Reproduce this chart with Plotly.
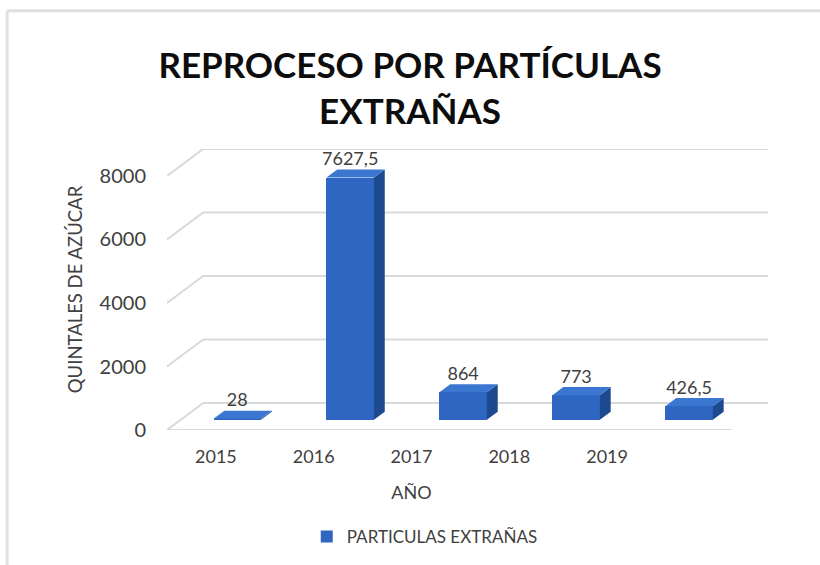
import plotly.graph_objects as go

# ---------------- data ----------------
years = ["2015", "2016", "2017", "2018", "2019"]
values = [28, 7627.5, 864, 773, 426.5]
y_ticks = [0, 2000, 4000, 6000, 8000]
series_name = "PARTICULAS EXTRAÑAS"
title_text = "REPROCESO POR PARTÍCULAS<br>EXTRAÑAS"
x_title = "AÑO"
y_title = "QUINTALES DE AZÚCAR"

# ---------------- 3D-look style constants ----------------
DX = 0.32      # depth of the box in category units
DY = 850       # depth of the box in value units
F1, F2 = 0.38, 0.68   # bar front / back depth fractions
W = 0.42       # bar width in category units
FRONT = "#2e66c1"
SIDE = "#1d4a8f"
TOP = "#3b76d1"
GRID = "#d9d9d9"
TXT = "#404040"
FONT = "Lato"

n = len(years)
x_lo, x_hi = -0.5, n - 0.5
pos = list(range(n))

fig = go.Figure()

# front faces (real bar trace)
fig.add_trace(go.Bar(
    x=[p + F1 * DX for p in pos], y=values, base=[F1 * DY] * n, width=W,
    marker=dict(color=FRONT, line=dict(width=0)),
    name=series_name, showlegend=True, hoverinfo="y"))

# side and top faces derived from the data
ddx, ddy = (F2 - F1) * DX, (F2 - F1) * DY
for p, v in zip(pos, values):
    x0 = p + F1 * DX - W / 2
    x1 = x0 + W
    b = F1 * DY
    t = v + b
    fig.add_trace(go.Scatter(
        x=[x1, x1, x1 + ddx, x1 + ddx, x1], y=[b, t, t + ddy, b + ddy, b],
        fill="toself", fillcolor=SIDE, line=dict(width=0), mode="lines",
        showlegend=False, hoverinfo="skip"))
    fig.add_trace(go.Scatter(
        x=[x0, x1, x1 + ddx, x0 + ddx, x0], y=[t, t, t + ddy, t + ddy, t],
        fill="toself", fillcolor=TOP, line=dict(width=0), mode="lines",
        showlegend=False, hoverinfo="skip"))

# value labels
fig.add_trace(go.Scatter(
    x=[p + F1 * DX for p in pos], y=[v + F2 * DY for v in values],
    mode="text", text=[f"{v:g}".replace(".", ",") for v in values],
    textposition="top center", textfont=dict(family=FONT, size=18, color=TXT),
    showlegend=False, hoverinfo="skip"))

# helper trace for category axis labels
fig.add_trace(go.Scatter(
    x=years, y=[0] * n, xaxis="x2", mode="markers",
    marker=dict(opacity=0, size=1), showlegend=False, hoverinfo="skip"))

# gridlines: back wall + left wall diagonals + floor front edge
shapes = []
for v in y_ticks:
    shapes.append(dict(type="line", xref="x", yref="y", layer="below",
                       x0=x_lo + DX, y0=v + DY, x1=x_hi + DX, y1=v + DY,
                       line=dict(color=GRID, width=2)))
    shapes.append(dict(type="line", xref="x", yref="y", layer="below",
                       x0=x_lo, y0=v, x1=x_lo + DX, y1=v + DY,
                       line=dict(color=GRID, width=2)))
shapes.append(dict(type="line", xref="x", yref="y", layer="below",
                   x0=x_lo, y0=0, x1=x_hi, y1=0,
                   line=dict(color=GRID, width=2)))
# faint outer frame (top and left edges)
shapes.append(dict(type="line", xref="paper", yref="paper", layer="below",
                   x0=-0.266, y0=1.492, x1=1.1, y1=1.492,
                   line=dict(color="#e0e0e0", width=3)))
shapes.append(dict(type="line", xref="paper", yref="paper", layer="below",
                   x0=-0.266, y0=1.492, x1=-0.266, y1=-0.5,
                   line=dict(color="#e0e0e0", width=3)))

fig.update_layout(
    width=820, height=565, autosize=False,
    margin=dict(l=167, r=52, t=149, b=135),
    paper_bgcolor="white", plot_bgcolor="rgba(0,0,0,0)",
    font=dict(family=FONT, color=TXT),
    shapes=shapes,
    bargap=0,
    title=dict(text=title_text, x=0.5, xanchor="center", xref="container",
               y=1 - 78 / 565, yanchor="top", yref="container",
               font=dict(family=FONT, size=35, color="#0d0d0d", weight="bold")),
    xaxis=dict(range=[x_lo, x_hi + DX], visible=False, fixedrange=True),
    xaxis2=dict(type="category", domain=[0, 0.8136], anchor="y",
                range=[-0.5, n - 0.5], showline=False, showgrid=False,
                zeroline=False, ticks="", tickfont=dict(family=FONT, size=18, color=TXT),
                ticklabelstandoff=14,
                title=dict(text=x_title, standoff=20,
                           font=dict(family=FONT, size=18, color=TXT))),
    yaxis=dict(range=[0, max(y_ticks) + DY], tickvals=y_ticks, showgrid=False,
               zeroline=False, showline=False, ticks="",
               ticklabelstandoff=20,
               tickfont=dict(family=FONT, size=20, color=TXT),
               title=dict(text=y_title, standoff=12,
                          font=dict(family=FONT, size=18.5, color=TXT))),
    legend=dict(orientation="h", xref="container", yref="container",
                x=0.518, xanchor="center", y=1 - 537 / 565, yanchor="middle",
                font=dict(family=FONT, size=17, color=TXT)),
)

fig.write_html("out.html")
